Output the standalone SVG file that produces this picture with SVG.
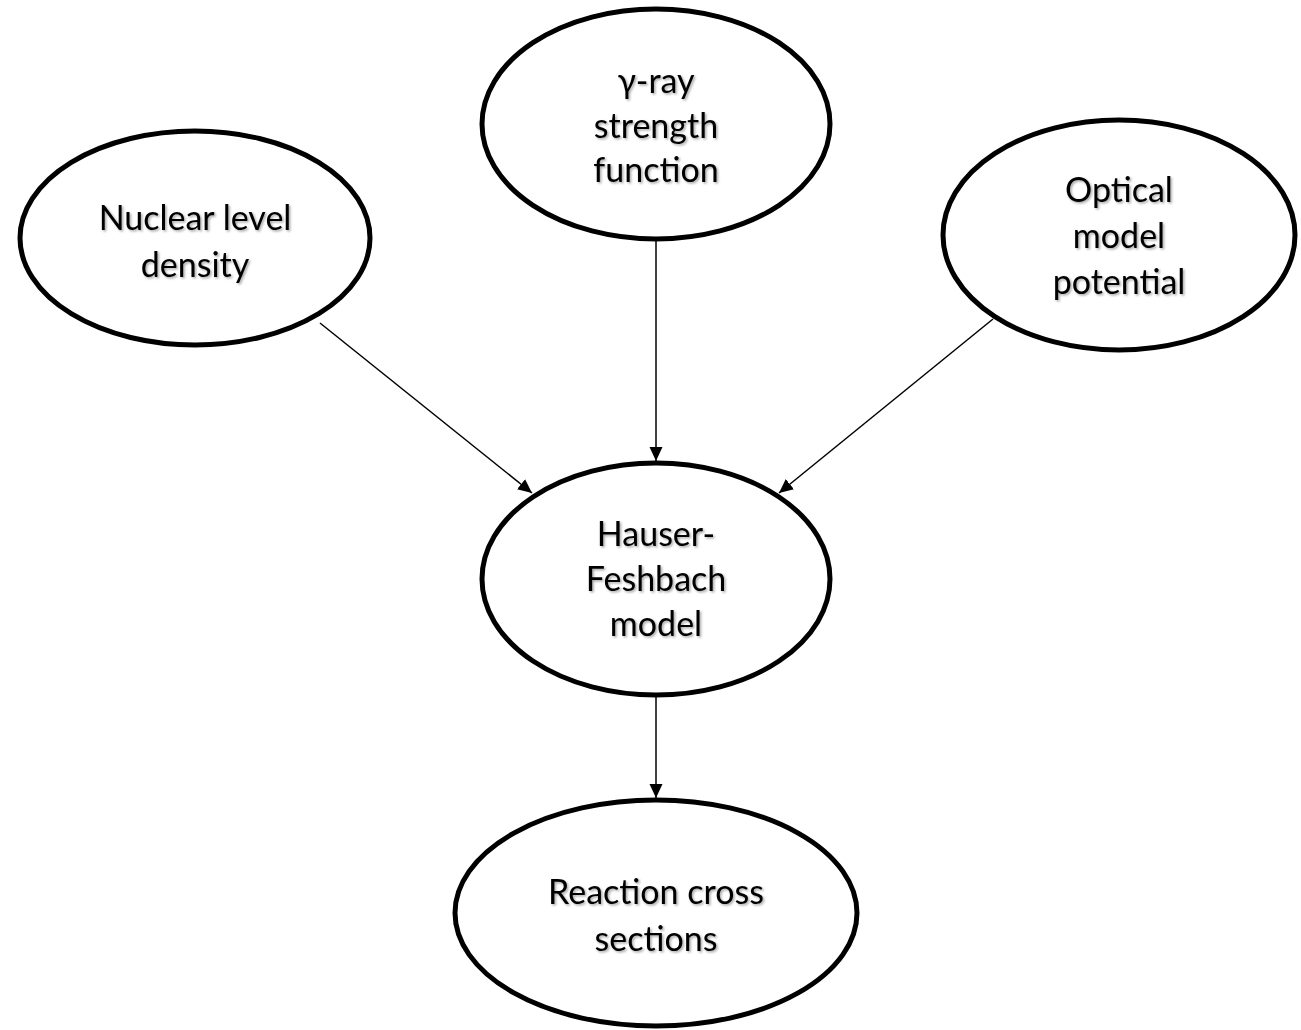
<svg xmlns="http://www.w3.org/2000/svg" width="1301" height="1030" viewBox="0 0 1301 1030">
<style>
.node ellipse{fill:#fff;stroke:#000;stroke-width:5}
.node text{font-family:Lato,"Open Sans","Liberation Sans",sans-serif;font-size:34px;fill:#000;text-anchor:middle;filter:url(#sh)}
.edge{stroke:#000;stroke-width:1.5;fill:none;marker-end:url(#arr)}
</style>
<defs>
<filter id="sh" x="-10%" y="-30%" width="130%" height="170%">
<feDropShadow dx="1.5" dy="1.5" stdDeviation="1" flood-color="#000" flood-opacity="0.35"/>
</filter>
<marker id="arr" markerWidth="14" markerHeight="14" viewBox="0 0 14 14" refX="14" refY="7" orient="auto" markerUnits="userSpaceOnUse">
<path d="M0,0.5 L14,7 L0,13.5 Z" fill="#000"/>
</marker>
</defs>
<rect width="1301" height="1030" fill="#fff"/>
<g id="connectors">
<line class="edge" x1="320" y1="323" x2="532" y2="493"/>
<line class="edge" x1="656" y1="240" x2="656" y2="461"/>
<line class="edge" x1="993" y1="319" x2="779" y2="493"/>
<line class="edge" x1="656" y1="695" x2="656" y2="798"/>
</g>
<g id="nld" class="node">
<ellipse cx="195" cy="238" rx="175" ry="107"/>
<text x="195" y="230">Nuclear level</text>
<text x="195" y="277">density</text>
</g>
<g id="gsf" class="node">
<ellipse cx="656" cy="124" rx="174" ry="115"/>
<text x="656" y="93">γ-ray</text>
<text x="656" y="138">strength</text>
<text x="656" y="182">function</text>
</g>
<g id="omp" class="node">
<ellipse cx="1119" cy="235" rx="176" ry="115"/>
<text x="1119" y="202">Optical</text>
<text x="1119" y="248">model</text>
<text x="1119" y="294">potential</text>
</g>
<g id="hf" class="node">
<ellipse cx="656" cy="579" rx="174" ry="116"/>
<text x="656" y="546">Hauser-</text>
<text x="656" y="591">Feshbach</text>
<text x="656" y="636">model</text>
</g>
<g id="rcs" class="node">
<ellipse cx="656" cy="913" rx="201" ry="113"/>
<text x="656" y="904">Reaction cross</text>
<text x="656" y="951">sections</text>
</g>
</svg>
